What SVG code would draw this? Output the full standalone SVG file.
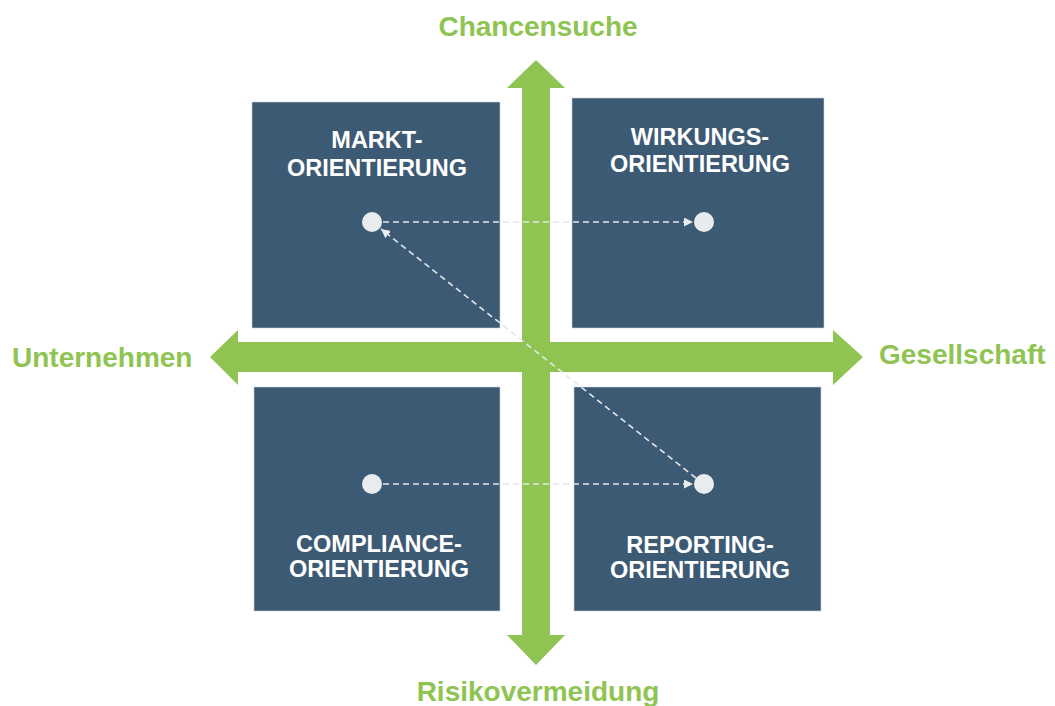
<svg xmlns="http://www.w3.org/2000/svg" width="1055" height="706" viewBox="0 0 1055 706">
<style>
.box{fill:#3d5a74;stroke:#c9d1d9;stroke-width:0.6}
.lbl{font-family:"Liberation Sans",Arial,sans-serif;font-weight:bold;font-size:23.5px;fill:#ffffff;text-anchor:middle}
.axis{font-family:"Liberation Sans",Arial,sans-serif;font-weight:bold;font-size:28px;fill:#8fc453}
.dot{fill:#e9ecef}
.dash{stroke:#e3e7ea;stroke-width:1.6;stroke-dasharray:6 4;fill:none}
</style>
<defs>
<marker id="ah" viewBox="0 0 10 10" refX="10" refY="5" markerWidth="9" markerHeight="9" markerUnits="userSpaceOnUse" orient="auto">
<path d="M0,0 L10,5 L0,10 Z" fill="#e9ecef"/>
</marker>
</defs>
<rect width="1055" height="706" fill="#ffffff"/>
<g id="axes">
<polygon fill="#8fc453" points="536,60 565,88 550,88 550,342 833,342 833,330 863,357 833,385 833,372 550,372 550,635 565,635 536,665 507,635 522,635 522,372 238,372 238,385 210,357 238,330 238,342 522,342 522,88 507,88"/>
</g>
<g id="markt">
<rect class="box" x="252" y="102" width="248" height="226"/>
<text class="lbl" x="377" y="148">MARKT-</text>
<text class="lbl" x="377" y="176">ORIENTIERUNG</text>
</g>
<g id="wirkung">
<rect class="box" x="572" y="98" width="252" height="230"/>
<text class="lbl" x="700" y="145">WIRKUNGS-</text>
<text class="lbl" x="700" y="172">ORIENTIERUNG</text>
</g>
<g id="compliance">
<rect class="box" x="254" y="387" width="246" height="224"/>
<text class="lbl" x="379" y="552">COMPLIANCE-</text>
<text class="lbl" x="379" y="577">ORIENTIERUNG</text>
</g>
<g id="reporting">
<rect class="box" x="574" y="387" width="247" height="224"/>
<text class="lbl" x="700" y="553">REPORTING-</text>
<text class="lbl" x="700" y="578">ORIENTIERUNG</text>
</g>
<g id="labels">
<text class="axis" x="538" y="36" text-anchor="middle">Chancensuche</text>
<text class="axis" x="538" y="701" text-anchor="middle">Risikovermeidung</text>
<text class="axis" x="12" y="367">Unternehmen</text>
<text class="axis" x="879" y="364">Gesellschaft</text>
</g>
<g id="connectors">
<line class="dash" x1="383" y1="222" x2="693" y2="222" marker-end="url(#ah)"/>
<line class="dash" x1="383" y1="484" x2="693" y2="484" marker-end="url(#ah)"/>
<line class="dash" x1="696" y1="478" x2="381" y2="229" marker-end="url(#ah)"/>
</g>
<g id="dots">
<circle class="dot" cx="372" cy="222" r="10"/>
<circle class="dot" cx="704" cy="222" r="10"/>
<circle class="dot" cx="372" cy="484" r="10"/>
<circle class="dot" cx="704" cy="484" r="10"/>
</g>
</svg>
